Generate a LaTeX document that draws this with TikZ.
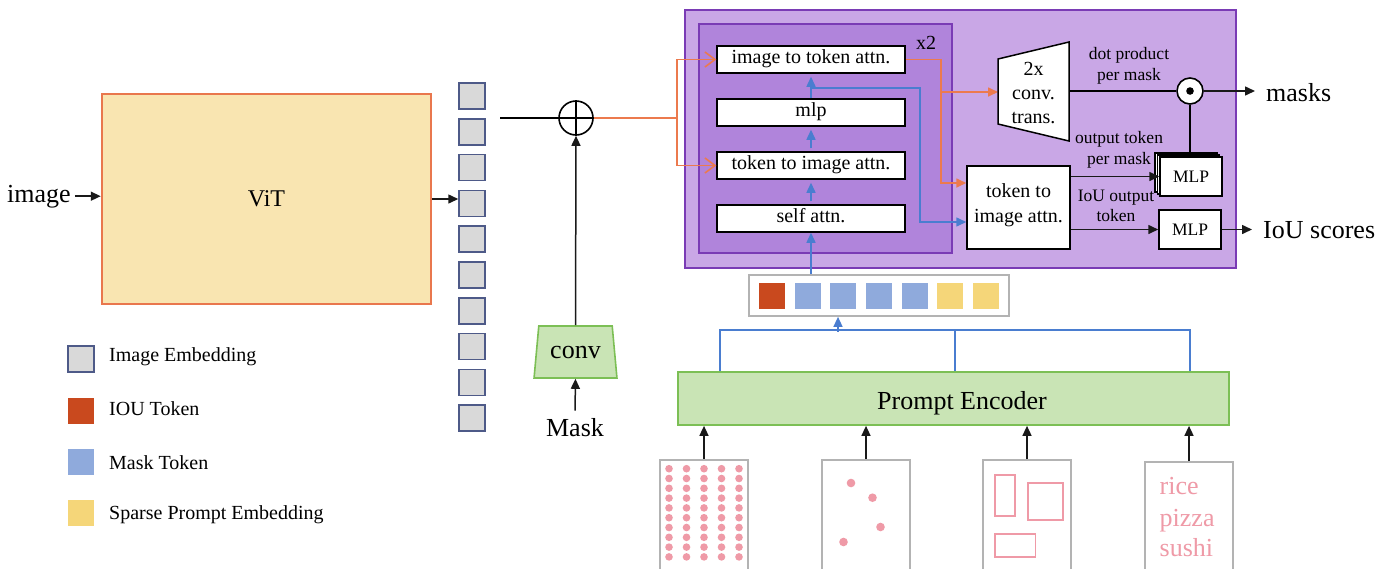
\documentclass[tikz,border=0pt]{standalone}
\usepackage{fontspec}
\setmainfont{Liberation Serif}
\usetikzlibrary{arrows.meta,shapes.geometric,calc}
\definecolor{vitfill}{HTML}{F9E5B1}
\definecolor{vitline}{HTML}{E9774D}
\definecolor{embfill}{HTML}{D9D9D9}
\definecolor{embline}{HTML}{4E5A88}
\definecolor{ioured}{HTML}{C9491E}
\definecolor{maskblue}{HTML}{8FAADC}
\definecolor{sparseyel}{HTML}{F5D679}
\definecolor{gfill}{HTML}{C9E4B5}
\definecolor{gline}{HTML}{7CBF55}
\definecolor{pout}{HTML}{C9A7E6}
\definecolor{pin}{HTML}{B084DB}
\definecolor{pline}{HTML}{7A3BB5}
\definecolor{oline}{HTML}{EC7A4E}
\definecolor{bline}{HTML}{4A7DD0}
\definecolor{pinkc}{HTML}{EF9AA7}
\definecolor{framec}{HTML}{B3B3B3}
\begin{document}
\begin{tikzpicture}[x=1pt,y=-1pt,
 f26/.style={font=\fontsize{26}{31}\selectfont},
 f24/.style={font=\fontsize{24}{29}\selectfont},
 f20/.style={font=\fontsize{20}{24}\selectfont},
 f17/.style={font=\fontsize{17.5}{21}\selectfont},
 arr/.style={draw=black!90, line width=1.5pt, -{Triangle[length=10pt,width=9pt]}},
 barr/.style={draw=bline, line width=1.5pt, -{Triangle[length=10pt,width=9pt]}},
 blin/.style={draw=bline, line width=1.5pt},
 olin/.style={draw=oline, line width=1.6pt},
 oarr/.style={draw=oline, line width=1.6pt, -{Triangle[length=10pt,width=9pt]}},
 oopen/.style={draw=oline, line width=1.6pt, -{Straight Barb[length=10pt,width=15pt,line width=1.6pt]}},
 emb/.style={draw=embline, fill=embfill, line width=1.5pt, minimum size=26pt, inner sep=0pt},
 tok/.style={minimum size=26pt, inner sep=0pt},
 wbox/.style={draw=black, fill=white, line width=1.5pt, inner sep=0pt, f20, text height=0.7em, text depth=0pt, minimum width=188pt, minimum height=27pt},
 mlpbox/.style={draw=black, fill=white, line width=1.5pt, inner sep=0pt, f17, minimum width=62pt, minimum height=39pt},
 frm/.style={draw=framec, fill=white, line width=1.7pt, minimum width=88pt, minimum height=140pt, inner sep=0pt},
 pdot/.style={fill=pinkc},
 lgtxt/.style={f20, anchor=west, inner sep=0pt},
]
\useasboundingbox (0,0) rectangle (1391,568);
\clip (0,0) rectangle (1391,568);

% ---------- image encoder ----------
\node[draw=vitline, fill=vitfill, line width=2.5pt, minimum width=329pt, minimum height=210pt, f24] (vit) at (266.5,199) {ViT};
\node[f26, anchor=base west, inner sep=0pt] (imglbl) at (7,202) {image};
\draw[arr, shorten <=4pt] (imglbl.east) -- (imglbl.east -| vit.west);

\foreach \i in {0,...,9} {\node[emb] (e\i) at (472,{96+35.8*\i}) {};}
\draw[arr] (vit.east) -- (vit.east -| e3.west);

% ---------- mask path ----------
\coordinate (eout) at (500,118);
\node[circle, draw=black, fill=white, line width=1.6pt, minimum size=34pt, inner sep=0pt] (plus) at (576,118) {};
\draw[line width=1.6pt] (plus.north) -- (plus.south) (plus.west) -- (plus.east);
\draw[line width=1.5pt] (eout) -- (plus.west);

\node[trapezium, trapezium left angle=75.4, trapezium right angle=75.4, trapezium stretches=true,
      draw=gline, fill=gfill, line width=1.6pt, minimum width=83pt, minimum height=52pt, inner sep=0pt, f26] (conv) at (575.5,352) {conv};
\node[f26, inner sep=8pt] (masklbl) at (575,428) {Mask};
\draw[arr] (masklbl.north) -- (conv.south);
\draw[arr] (conv.north) -- (plus.south);

% ---------- mask decoder ----------
\node[draw=pline, fill=pout, line width=1.7pt, minimum width=551pt, minimum height=258pt, inner sep=0pt] (dec) at (960.5,139) {};
\node[draw=pline, fill=pin, line width=1.7pt, minimum width=253pt, minimum height=229pt, inner sep=0pt] (layer) at (825.5,138.5) {};
\node[f20, inner sep=0pt] (x2) at (926,43) {x2};

\node[wbox] (i2t) at (811,59.5) {image to token attn.};
\node[wbox] (mlp) at (811,112.5) {mlp};
\node[wbox] (t2i) at (811,165.5) {token to image attn.};
\node[wbox] (sa) at (811,218.5) {self attn.};

\coordinate (obr) at (677,118);
\draw[olin] (plus.east) -- (obr);
\draw[oopen] (obr) |- (i2t.west);
\draw[oopen] (obr) |- (t2i.west);

\draw[barr, shorten <=3pt, shorten >=3pt] (sa.north) -- (t2i.south);
\draw[barr, shorten <=3pt, shorten >=3pt] (t2i.north) -- (mlp.south);
\draw[barr, shorten >=3pt] (mlp.north) -- (i2t.south);

% final token-to-image box
\node[draw=black, fill=white, line width=1.5pt, minimum width=103pt, minimum height=83pt, inner sep=0pt] (t2i2) at (1018.5,207.5) {};
\node[f20, align=center, inner sep=0pt, font=\fontsize{20}{24.5}\selectfont] (t2i2txt) at (1018.5,205) {token to\\image attn.};

\coordinate (bj) at (811,88);
\draw[barr] (bj) -| (920,150) |- ($(t2i2.west)+(0,14.5)$);

\coordinate (oj) at (941,92);
\coordinate (ctl) at (998,92);
\coordinate (ctr) at (1069,91);
\draw[oarr] (i2t.east) -| (941,150) |- ($(t2i2.west)+(0,-24.5)$);
\draw[oarr] (oj) -- (ctl);

% conv trans (upscaling)
\draw[fill=white, line width=1.5pt] (998,59) -- (1069,42) -- (1069,141) -- (998,124) -- cycle;
\node[f20, align=center, inner sep=0pt] (ct) at (1033.5,93) {2x\\conv.\\trans.};

% dot product
\node[circle, draw=black, fill=white, line width=1.6pt, minimum size=26pt, inner sep=0pt] (dot) at (1190,91) {};
\fill (dot.center) circle (3.8pt);
\draw[line width=1.5pt] (ctr) -- (dot.west);
\node[f26, anchor=base west, inner sep=0pt] (masks) at (1266,101) {masks};
\draw[arr, shorten >=11pt] (dot.east) -- (dot.east -| masks.west);

% MLPs
\node[mlpbox] (mlpb2) at (1186,172.5) {};
\node[mlpbox] (mlpb1) at (1188.5,174.5) {};
\node[mlpbox] (mlp1) at (1191,176.5) {MLP};
\draw[line width=1.5pt] (dot.south) -- (dot.south |- mlpb2.north);
\draw[arr] (t2i2.east |- mlp1.west) -- (mlp1.west);

\node[mlpbox] (mlp2) at (1190,229.5) {MLP};
\draw[arr] (t2i2.east |- mlp2.west) -- (mlp2.west);
\node[f26, anchor=base west, inner sep=0pt] (iou) at (1263,238.5) {IoU scores};
\draw[arr, shorten >=11pt] (mlp2.east) -- (mlp2.east -| iou.west);

\node[f17, align=center, inner sep=0pt] (dplbl) at (1129,65.5) {dot product\\per mask};
\node[f17, align=center, inner sep=0pt] (otlbl) at (1119,149.5) {output token\\per mask};
\node[f17, align=center, inner sep=0pt, font=\fontsize{17.5}{20}\selectfont] (iolbl) at (1116,206) {IoU output\\token};

% ---------- tokens ----------
\node[draw=framec, fill=white, line width=1.7pt, minimum width=260pt, minimum height=41pt, inner sep=0pt] (strip) at (879,295.5) {};
\foreach \c/\col [count=\k] in {772/ioured,808/maskblue,843/maskblue,879/maskblue,915/maskblue,950/sparseyel,986/sparseyel}
  {\node[tok, fill=\col] (t\k) at (\c,296) {};}
\draw[barr] (strip.north -| sa.south) -- (sa.south);

% ---------- prompt encoder ----------
\node[draw=gline, fill=gfill, line width=1.7pt, minimum width=551pt, minimum height=53pt, inner sep=0pt] (pe) at (953.5,398.5) {};
\node[f26, anchor=base, inner sep=0pt] (pelbl) at (962,409) {Prompt Encoder};
\draw[blin] ($(pe.north west)+(43,0)$) |- ($(pe.north east)+(-40,-41)$) -- ($(pe.north east)+(-40,0)$);
\draw[blin] ($(pe.north)+(1.5,0)$) -- ($(pe.north)+(1.5,-41)$);
\draw[barr] ($(strip.south)+(-41,15)$) -- ($(strip.south)+(-41,0)$);

% ---------- prompts ----------
\node[frm] (p1) at (704,530) {};
\node[frm] (p2) at (866,530) {};
\node[frm] (p3) at (1027,530) {};
\node[frm] (p4) at (1189,532) {};
\foreach \p in {p1,p2,p3,p4} {\draw[arr] (\p.north) -- (\p.north |- pe.south);}

\foreach \cx in {669,686.5,704,721.5,739} {
  \foreach \r in {0,...,9} {\fill[pdot] (\cx,{468.7+9.8*\r}) circle (3.8pt);}
}
\fill[pdot] (851,483) circle (4.3pt);
\fill[pdot] (872.5,497.7) circle (4.3pt);
\fill[pdot] (880.5,527) circle (4.3pt);
\fill[pdot] (843.5,542) circle (4.3pt);

\draw[draw=pinkc, line width=1.6pt] (995,475) rectangle (1015,516);
\draw[draw=pinkc, line width=1.6pt] (1028,483) rectangle (1063,520);
\draw[draw=pinkc, line width=1.6pt] (995,534) rectangle (1035.5,557);

\node[f26, text=pinkc, anchor=base west, inner sep=0pt] (w1) at (1159.5,494) {rice};
\node[f26, text=pinkc, anchor=base west, inner sep=0pt] (w2) at (1159.5,526) {pizza};
\node[f26, text=pinkc, anchor=base west, inner sep=0pt] (w3) at (1159.5,556.5) {sushi};

% ---------- legend ----------
\node[emb] (lg1) at (81,359) {};
\node[lgtxt] (lt1) at (109,357) {Image Embedding};
\node[tok, fill=ioured] (lg2) at (81,411) {};
\node[lgtxt] (lt2) at (109,409) {IOU Token};
\node[tok, fill=maskblue] (lg3) at (81,462) {};
\node[lgtxt] (lt3) at (109,463) {Mask Token};
\node[tok, fill=sparseyel] (lg4) at (81,513) {};
\node[lgtxt] (lt4) at (109,515) {Sparse Prompt Embedding};
\end{tikzpicture}
\end{document}
